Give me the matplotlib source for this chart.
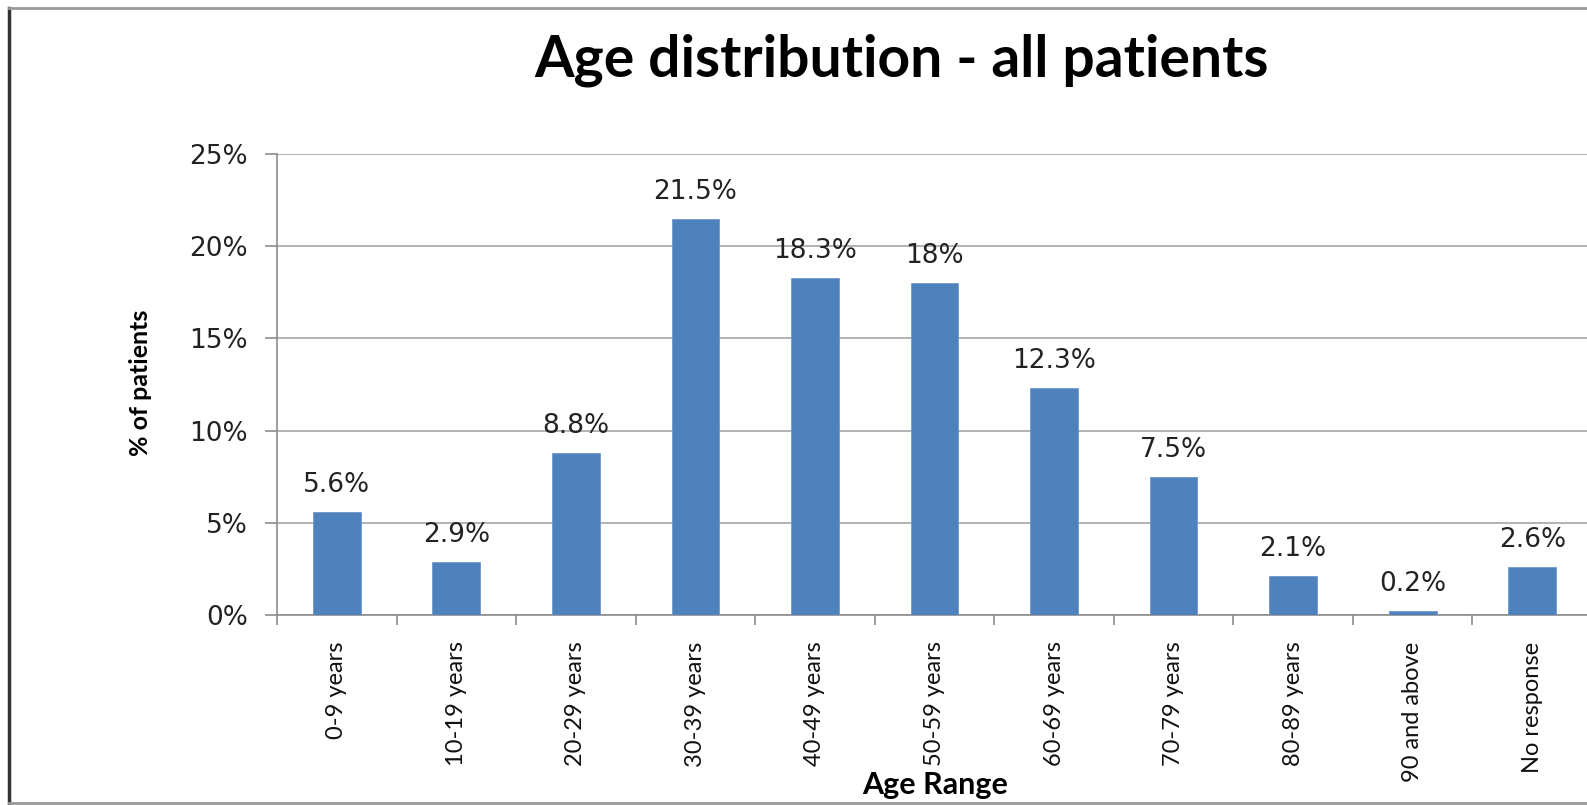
import numpy as np
import matplotlib
matplotlib.use("Agg")
import matplotlib.pyplot as plt
from matplotlib.lines import Line2D

# data
categories = ["0-9 years", "10-19 years", "20-29 years", "30-39 years", "40-49 years",
              "50-59 years", "60-69 years", "70-79 years", "80-89 years", "90 and above",
              "No response"]
percent = [5.6, 2.9, 8.8, 21.5, 18.3, 18.0, 12.3, 7.5, 2.1, 0.2, 2.6]
labels = ["5.6%", "2.9%", "8.8%", "21.5%", "18.3%", "18%", "12.3%", "7.5%", "2.1%", "0.2%", "2.6%"]
yticks = [0, 5, 10, 15, 20, 25]

W, H = 1587, 805
fig = plt.figure(figsize=(W / 100, H / 100), dpi=100)
ax = fig.add_axes([277 / W, 1 - 615 / H, (1592 - 277) / W, (615 - 154) / H])

x = np.arange(len(categories))
bars = ax.bar(x, percent, width=0.4, color="#4F81BD", edgecolor="#6E98CC", linewidth=0.6, zorder=3)

for b, lab in zip(bars, labels):
    ax.annotate(lab, (b.get_x() + b.get_width() / 2, b.get_height()),
                xytext=(0, 10), textcoords="offset points", ha="center", va="bottom",
                fontsize=19, color="#222222", family="DejaVu Sans")

ax.set_xlim(-0.5, len(categories) - 0.5)
ax.set_ylim(0, 25)
ax.set_yticks(yticks)
ax.set_yticklabels([f"{v}%" for v in yticks], fontsize=19, color="#222222", family="DejaVu Sans")
ax.yaxis.grid(True, color="#A6A6A6", linewidth=1.2, zorder=0)

ax.set_xticks(x)
ax.set_xticklabels(categories, rotation=90, ha="center", va="top", fontsize=17,
                   family=["Liberation Sans Narrow", "Lato", "DejaVu Sans"], color="#111111")
ax.set_xticks(np.arange(len(categories) + 1) - 0.5, minor=True)
ax.tick_params(axis="x", which="major", length=0, pad=19)
ax.tick_params(axis="x", which="minor", length=7, color="#8C8C8C", width=1.2)
ax.tick_params(axis="y", length=9, color="#8C8C8C", width=1.2, pad=12)

for side in ["top", "right"]:
    ax.spines[side].set_visible(False)
for side in ["left", "bottom"]:
    ax.spines[side].set_color("#8C8C8C")
    ax.spines[side].set_linewidth(1.2)

fig.text(902 / W, 1 - 60 / H, "Age distribution - all patients", ha="center", va="center",
         fontsize=41, fontweight="bold", family=["Lato", "DejaVu Sans"])
fig.text(140 / W, 1 - 383 / H, "% of patients", ha="center", va="center", rotation=90,
         fontsize=18, fontweight="bold", family=["Liberation Sans Narrow", "Lato", "DejaVu Sans"])
fig.text(935 / W, 1 - 785 / H, "Age Range", ha="center", va="center",
         fontsize=22, fontweight="bold", family=["Lato", "DejaVu Sans"])

# outer frame of the chart
fig.add_artist(Line2D([9 / W, 9 / W], [1 - 8 / H, 1 - 803 / H], color="#333333", linewidth=2.5))
fig.add_artist(Line2D([9 / W, 1], [1 - 8 / H, 1 - 8 / H], color="#999999", linewidth=2))
fig.add_artist(Line2D([9 / W, 1], [1 - 803 / H, 1 - 803 / H], color="#999999", linewidth=2))

fig.savefig("out.png", dpi=100)
